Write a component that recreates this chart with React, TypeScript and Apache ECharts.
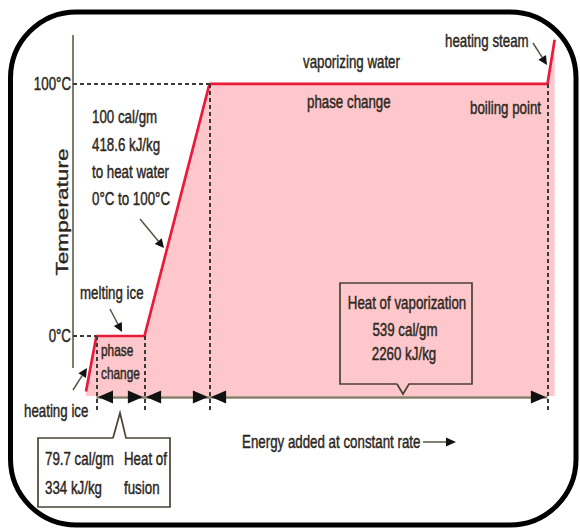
import React, { useEffect, useRef } from "react";
import * as echarts from "echarts";

// Heating curve of water: energy added (arbitrary cal/gm-like units) vs temperature (°C)
const energy = [0, 16, 90, 190, 710, 721];
const temperature = [-22, 0, 0, 100, 100, 117.5];
const tickTemps = [0, 100];
const tickLabels = ["0°C", "100°C"];
const boundEnergy = [16, 90, 190, 710];
const boundTemp = [0, 0, 100, 100];
const axisSpan = [-12.7, 119.4];
const arrowLevel = -24.2;
const dashBottom = -29.5;
const fillBase = -23.8;

const RED = "#ea1a3b";
const PINK = "#fdc7cb";
const INK = "#2c271d";
const FONT = '"Liberation Sans", Arial, sans-serif';

function txt(text: string, x: number, y: number, align = "left", size = 18) {
  return {
    type: "text",
    x,
    y,
    scaleX: 0.74,
    z: 100,
    style: {
      text,
      fill: INK,
      stroke: INK,
      lineWidth: 0.45,
      font: `${size}px ${FONT}`,
      align,
      verticalAlign: "middle",
      textAlign: align,
      textVerticalAlign: "middle",
    },
  };
}

function arrow(x1: number, y1: number, x2: number, y2: number, len = 9, w = 4.5) {
  const dx = x2 - x1, dy = y2 - y1;
  const d = Math.sqrt(dx * dx + dy * dy);
  const ux = dx / d, uy = dy / d;
  const bx = x2 - ux * len, by = y2 - uy * len;
  return [
    {
      type: "line",
      z: 100,
      shape: { x1, y1, x2: bx, y2: by },
      style: { stroke: "#5a5244", lineWidth: 1.5 },
    },
    {
      type: "polygon",
      z: 100,
      shape: {
        points: [
          [x2, y2],
          [bx - uy * w, by + ux * w],
          [bx + uy * w, by - ux * w],
        ],
      },
      style: { fill: "#111" },
    },
  ];
}

export default function App() {
  const ref = useRef<HTMLDivElement>(null);
  useEffect(() => {
    const chart = echarts.init(ref.current!, null, { renderer: "svg" });
    const dashStyle = { color: "#3a3a3a", type: [4, 3] as any, width: 2 };
    const markData: any[] = [];
    // temperature axis line
    markData.push([
      { coord: [-20, axisSpan[0]], lineStyle: { color: "#6e6452", width: 1.7, type: "solid" } },
      { coord: [-20, axisSpan[1]] },
    ]);
    // dotted level lines from axis to the curve
    markData.push([{ coord: [-20, 100], lineStyle: dashStyle }, { coord: [boundEnergy[2], 100] }]);
    markData.push([{ coord: [-20, 0], lineStyle: dashStyle }, { coord: [boundEnergy[0], 0] }]);
    // dashed phase boundaries
    boundEnergy.forEach((e, i) => {
      markData.push([{ coord: [e, boundTemp[i]], lineStyle: dashStyle }, { coord: [e, dashBottom] }]);
    });
    // base line of energy arrows
    markData.push([
      { coord: [boundEnergy[0], arrowLevel], lineStyle: { color: "#877d69", width: 2.6, type: "solid" } },
      { coord: [boundEnergy[3], arrowLevel] },
    ]);
    // double-headed arrows per segment
    for (let i = 0; i < boundEnergy.length - 1; i++) {
      const a = boundEnergy[i] + 14;
      const b = boundEnergy[i + 1] - 14;
      markData.push([
        {
          coord: [a, arrowLevel],
          symbol: "triangle",
          symbolSize: [13, 15],
          lineStyle: { color: "#111", width: 0, type: "solid" },
        },
        { coord: [b, arrowLevel], symbol: "triangle", symbolSize: [13, 15] },
      ]);
    }

    chart.setOption({
      animation: false,
      backgroundColor: "#fff",
      grid: { left: 73, top: 35, width: 494, height: 376.6, containLabel: false },
      xAxis: {
        type: "value",
        min: -20,
        max: 740,
        show: false,
      },
      yAxis: {
        type: "value",
        min: -30,
        max: 119.4,
        axisLine: { show: false },
        axisTick: { show: false },
        splitLine: { show: false },
        axisLabel: { show: false },
      },
      series: [
        {
          type: "line",
          data: energy.map((e, i) => [e, temperature[i]]),
          symbol: "none",
          clip: false,
          lineStyle: { color: RED, width: 2.7 },
          areaStyle: { color: PINK, opacity: 1, origin: fillBase },
          markLine: {
            silent: true,
            symbol: ["none", "none"],
            label: { show: false },
            animation: false,
            data: markData,
          },
        },
      ],
    });

    const labelGraphics = tickTemps.map((t, i) => {
      const p = chart.convertToPixel({ gridIndex: 0 }, [-20, t]) as number[];
      return txt(tickLabels[i], p[0] - 2, p[1], "right", 18);
    });

    const graphic: any[] = [
      {
        type: "rect",
        z: 200,
        shape: { x: 10.5, y: 12, width: 565.5, height: 513, r: 66 },
        style: { fill: "none", stroke: "#000", lineWidth: 5 },
      },
      ...labelGraphics,
      txt("100 cal/gm", 92, 117),
      txt("418.6 kJ/kg", 92, 145),
      txt("to heat water", 92, 172),
      txt("0°C to 100°C", 92, 199),
      txt("melting ice", 80, 293),
      txt("phase", 101, 350, "left", 16),
      txt("change", 101, 373, "left", 16),
      txt("heating ice", 24, 411),
      txt("vaporizing water", 303, 62),
      txt("phase change", 307, 102),
      txt("boiling point", 470, 108),
      txt("heating steam", 445, 41),
      txt("Energy added at constant rate", 242, 442),
      txt("Heat of vaporization", 407, 303, "center"),
      txt("539 cal/gm", 405, 330, "center"),
      txt("2260 kJ/kg", 404, 354, "center"),
      txt("79.7 cal/gm", 45, 459),
      txt("334 kJ/kg", 45, 488),
      txt("Heat of", 124, 459),
      txt("fusion", 124, 488),
      {
        type: "text",
        x: 62,
        y: 212,
        rotation: Math.PI / 2,
        scaleX: 1.03,
        scaleY: 0.74,
        z: 100,
        style: {
          text: "Temperature",
          fill: INK,
          stroke: INK,
          lineWidth: 0.45,
          font: `22px ${FONT}`,
          align: "center",
          verticalAlign: "middle",
          textAlign: "center",
          textVerticalAlign: "middle",
        },
      },
      ...arrow(140, 219, 164, 248),
      ...arrow(110, 309, 122, 332),
      ...arrow(73, 390, 87, 368),
      ...arrow(533, 43, 547, 65),
      ...arrow(423, 442, 456, 442, 10, 4.5),
      {
        type: "polyline",
        z: 100,
        shape: {
          points: [
            [113, 438], [38, 438], [38, 507], [170, 507], [170, 438], [126, 438], [120, 413], [113, 438],
          ],
        },
        style: { stroke: "#4a4234", lineWidth: 1.7, fill: "none" },
      },
      {
        type: "polyline",
        z: 100,
        shape: {
          points: [
            [397, 384], [340, 384], [340, 283], [472, 283], [472, 384], [409, 384], [403, 394], [397, 384],
          ],
        },
        style: { stroke: "#4a4234", lineWidth: 1.7, fill: "none" },
      },
    ];
    chart.setOption({ graphic });
    return () => chart.dispose();
  }, []);
  return (
    <div
      ref={ref}
      style={{ position: "fixed", left: 0, top: 0, width: 580, height: 529 }}
    />
  );
}
